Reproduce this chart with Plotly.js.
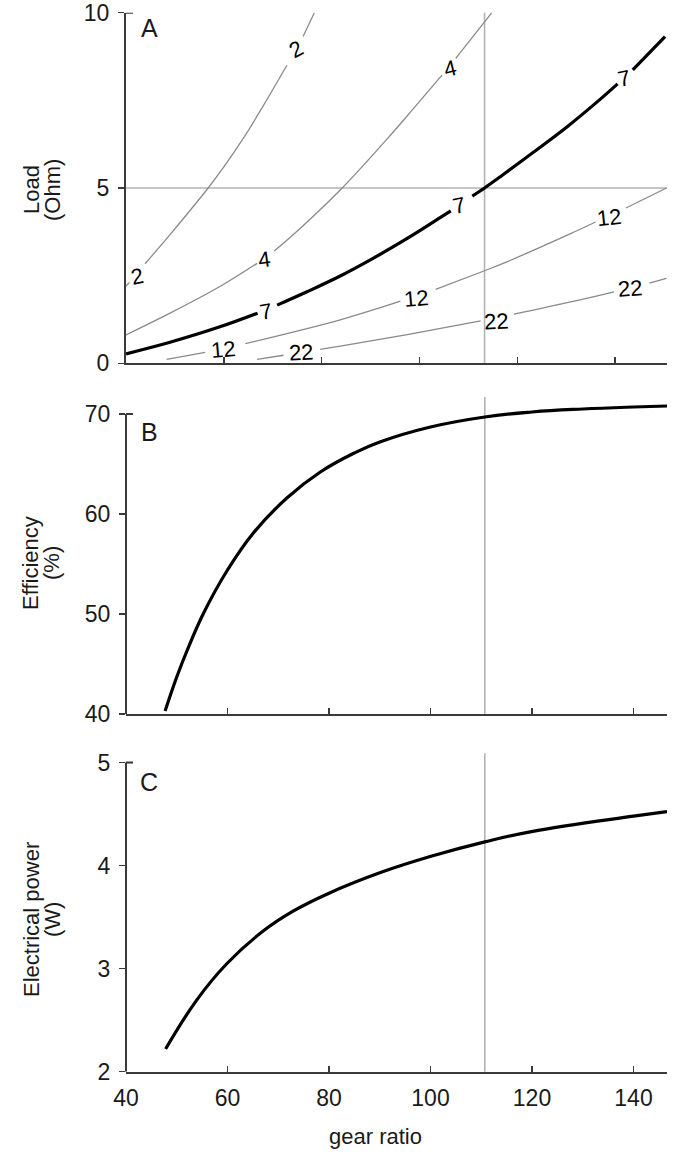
<!DOCTYPE html>
<html>
<head>
<meta charset="utf-8">
<script src="https://cdn.plot.ly/plotly-3.0.1.min.js"></script>
<style>html,body{margin:0;padding:0;background:#fff;}#chart{width:685px;height:1161px;}</style>
</head>
<body>
<div id="chart"></div>
<script>
// ---------- DATA ----------
// Panel A: iso-lines of load (Ohm) vs gear ratio; null = gap left for a label
const gear2  = [40, 40.7, null, 43.9, 49.0, 53.8, 56.8, 60.0, 64.0, 68.0, 72.9, null, 76.2, 78.5];
const load2  = [2.20, 2.31, null, 2.84, 3.67, 4.48, 5.0, 5.60, 6.42, 7.33, 8.50, null, 9.32, 10.0];

const gear4  = [40, 49.0, 59.2, 66.8, null, 70.3, 75.7, 84.2, 93.4, 98.8, 104.6, null, 107.4, 113.3, 114.8];
const load4  = [0.81, 1.43, 2.19, 2.85, null, 3.20, 3.86, 5.0, 6.40, 7.27, 8.22, null, 8.70, 9.74, 10.0];

const gear7  = [40, 49.0, 59.2, 66.9, null, 70.9, 77.0, 83.8, 90.6, 97.5, 104.3, 106.4, null, 110.8, 113.3, 116.6, 123.0, 130.2, 137.1, 140.5, null, 143.6, 150.2];
const load7  = [0.27, 0.60, 1.04, 1.43, null, 1.66, 2.04, 2.49, 3.00, 3.56, 4.16, 4.35, null, 4.77, 5.0, 5.33, 5.99, 6.75, 7.55, 7.97, null, 8.37, 9.32];

const gear12 = [48.3, 56.2, null, 64.4, 83.8, 96.1, null, 103.3, 113.3, 116.6, 130.9, 136.0, null, 142.2, 150.5];
const load12 = [0.11, 0.31, null, 0.56, 1.24, 1.77, null, 2.11, 2.64, 2.82, 3.70, 4.03, null, 4.43, 5.0];

const gear22 = [66.8, 72.2, null, 79.7, 83.8, 97.5, 112.5, null, 119.3, 130.9, 139.8, null, 147.0, 150.5];
const load22 = [0.11, 0.23, null, 0.40, 0.49, 0.82, 1.21, null, 1.40, 1.75, 2.04, null, 2.29, 2.42];

// contour labels
const labelText = ['2', '2', '4', '4', '7', '7', '7', '12', '12', '12', '22', '22', '22'];
const labelGear = [42.2, 74.7, 68.3, 106.2, 68.6, 108.1, 141.8, 59.9, 99.2, 138.8, 75.8, 115.6, 143.1];
const labelLoad = [2.48, 8.96, 2.97, 8.40, 1.47, 4.50, 8.12, 0.40, 1.86, 4.16, 0.30, 1.20, 2.13];

// Panel B: efficiency (%)
const gearEff = [47.7, 50, 52, 55.3, 60, 65.1, 71.7, 78.3, 85, 90, 100, 110.7, 120, 130, 140, 146.6];
const effPct  = [40.3, 43.7, 46.3, 50.1, 54.4, 58.1, 61.6, 64.2, 66.1, 67.2, 68.7, 69.7, 70.2, 70.5, 70.7, 70.8];

// Panel C: electrical power (W)
const gearPow = [47.8, 54.0, 59.9, 66.9, 73.0, 79.9, 90.0, 100.1, 110.7, 119.9, 140, 146.6];
const powerW  = [2.22, 2.70, 3.05, 3.36, 3.56, 3.73, 3.93, 4.09, 4.23, 4.33, 4.48, 4.525];

// selected operating point (grey reference lines)
const selectedLoad = 5;
const selectedGearA = 113.3;   // as drawn on panel A's axis
const selectedGearBC = 110.7;  // as drawn on panels B and C

// tick labels
const gearTicks = [40, 60, 80, 100, 120, 140];
const loadTicks = [0, 5, 10];
const effTicks = [40, 50, 60, 70];
const powTicks = [2, 3, 4, 5];

// ---------- STYLE ----------
const FONT = "'Liberation Sans', Arial, sans-serif";
const TXT = '#1a1a1a';
const AX = '#3a3a3a';
const GREY = '#8a8a8a';
const REF = '#b3b3b3';
const H = 1161, PW = 541, LM = 126;
const py = v => 1 - v / H;          // pixel row -> paper fraction
const px = v => (v - LM) / PW;      // pixel column -> paper fraction

const contourSets = [
  {x: gear2, y: load2, c: GREY, w: 1.3},
  {x: gear4, y: load4, c: GREY, w: 1.3},
  {x: gear7, y: load7, c: '#000', w: 3.2},
  {x: gear12, y: load12, c: GREY, w: 1.3},
  {x: gear22, y: load22, c: GREY, w: 1.3}
];

const traces = contourSets.map(s => ({
  type: 'scatter', mode: 'lines', x: s.x, y: s.y, xaxis: 'x', yaxis: 'y',
  line: {color: s.c, width: s.w, shape: 'spline', smoothing: 1},
  connectgaps: false, hoverinfo: 'skip'
}));
traces.push({type: 'scatter', mode: 'lines', x: gearEff, y: effPct, xaxis: 'x2', yaxis: 'y2',
  line: {color: '#000', width: 3.2, shape: 'spline', smoothing: 1.2}, hoverinfo: 'skip'});
traces.push({type: 'scatter', mode: 'lines', x: gearPow, y: powerW, xaxis: 'x3', yaxis: 'y3',
  line: {color: '#000', width: 3.2, shape: 'spline', smoothing: 1.2}, hoverinfo: 'skip'});

const labelAngle = [-12, -28, -8, -14, -10, -12, -12, -5, -5, -6, -3, -3, -4];
const annotations = labelText.map((t, i) => ({
  xref: 'x', yref: 'y', x: labelGear[i], y: labelLoad[i], text: t, showarrow: false,
  textangle: labelAngle[i], font: {family: FONT, size: 22, color: '#000'},
  xanchor: 'center', yanchor: 'middle'
}));

// panel letters
[['A', 27.5], ['B', 432], ['C', 782]].forEach(([t, yy]) => annotations.push({
  xref: 'paper', yref: 'paper', x: px(149), y: py(yy), text: t, showarrow: false,
  xanchor: 'center', yanchor: 'middle', font: {family: FONT, size: 25, color: TXT}
}));
// axis titles (two rotated lines each)
[['Load', '(Ohm)', 190], ['Efficiency', '(%)', 563], ['Electrical power', '(W)', 920]].forEach(([a, b, yy]) => {
  annotations.push({xref: 'paper', yref: 'paper', x: px(31), y: py(yy), text: a, showarrow: false, textangle: -90,
    xanchor: 'center', yanchor: 'middle', font: {family: FONT, size: 22, color: TXT}});
  annotations.push({xref: 'paper', yref: 'paper', x: px(52), y: py(yy), text: b, showarrow: false, textangle: -90,
    xanchor: 'center', yanchor: 'middle', font: {family: FONT, size: 22, color: TXT}});
});
annotations.push({xref: 'paper', yref: 'paper', x: px(375), y: py(1136.7), text: 'gear ratio', showarrow: false,
  xanchor: 'center', yanchor: 'middle', font: {family: FONT, size: 22, color: TXT}});

const refLine = {color: REF, width: 1.6};
const axLine = {color: AX, width: 2};
const shapes = [
  // panel A reference lines
  {type: 'line', xref: 'x', yref: 'y domain', x0: selectedGearA, x1: selectedGearA, y0: 0, y1: 1, line: refLine, layer: 'below'},
  {type: 'line', xref: 'x domain', yref: 'y', x0: 0, x1: 1, y0: selectedLoad, y1: selectedLoad, line: refLine, layer: 'below'},
  // panel B / C reference lines
  {type: 'line', xref: 'x2', yref: 'y2 domain', x0: selectedGearBC, x1: selectedGearBC, y0: 0, y1: 1, line: refLine, layer: 'below'},
  {type: 'line', xref: 'x3', yref: 'y3 domain', x0: selectedGearBC, x1: selectedGearBC, y0: 0, y1: 1, line: refLine, layer: 'below'},
  // y-axis spines for B and C (stop at top tick)
  {type: 'line', xref: 'x2 domain', yref: 'y2', x0: 0, x1: 0, y0: 40, y1: 70, line: axLine},
  {type: 'line', xref: 'x3 domain', yref: 'y3', x0: 0, x1: 0, y0: 2, y1: 5, line: axLine},
  // inward top ticks
  {type: 'line', xref: 'x', xsizemode: 'pixel', xanchor: 40, x0: 0, x1: 7, yref: 'y', y0: 10, y1: 10, line: axLine},
  {type: 'line', xref: 'x2', xsizemode: 'pixel', xanchor: 40, x0: 0, x1: 7, yref: 'y2', y0: 70, y1: 70, line: axLine},
  {type: 'line', xref: 'x3', xsizemode: 'pixel', xanchor: 40, x0: 0, x1: 7, yref: 'y3', y0: 5, y1: 5, line: axLine}
];

const xBase = {
  showgrid: false, zeroline: false, showline: true, linecolor: AX, linewidth: 2,
  ticks: 'inside', ticklen: 6, tickwidth: 1.5, tickcolor: AX, tickmode: 'array',
  tickfont: {family: FONT, size: 23, color: TXT}, ticklabeloverflow: 'allow', fixedrange: true
};
const yBase = {
  showgrid: false, zeroline: false, linecolor: AX, linewidth: 2,
  ticks: 'outside', ticklen: 6, tickwidth: 1.5, tickcolor: AX, tickmode: 'array',
  tickfont: {family: FONT, size: 23, color: TXT}, ticklabelstandoff: 4,
  ticklabeloverflow: 'allow', fixedrange: true
};

const layout = {
  width: 685, height: 1161,
  margin: {l: LM, r: 685 - LM - PW, t: 0, b: 0},
  paper_bgcolor: '#fff', plot_bgcolor: '#fff', showlegend: false,
  font: {family: FONT, color: TXT},
  xaxis: Object.assign({}, xBase, {domain: [0, 1], range: [40, 150.6], anchor: 'y',
    tickvals: gearTicks.slice(1), showticklabels: false}),
  yaxis: Object.assign({}, yBase, {domain: [py(363.3), py(12.7)], range: [0, 10], anchor: 'x',
    showline: true, tickvals: loadTicks, ticktext: loadTicks.map(String)}),
  xaxis2: Object.assign({}, xBase, {domain: [0, 1], range: [40, 146.6], anchor: 'y2',
    tickvals: gearTicks.slice(1), showticklabels: false}),
  yaxis2: Object.assign({}, yBase, {domain: [py(714), py(397)], range: [40, 71.7], anchor: 'x2',
    showline: false, tickvals: effTicks, ticktext: effTicks.map(String)}),
  xaxis3: Object.assign({}, xBase, {domain: [0, 1], range: [40, 146.6], anchor: 'y3',
    tickvals: gearTicks, ticktext: gearTicks.map(String), ticklabelstandoff: 5}),
  yaxis3: Object.assign({}, yBase, {domain: [py(1071.7), py(753.3)], range: [2, 5.09], anchor: 'x3',
    showline: false, tickvals: powTicks, ticktext: powTicks.map(String)}),
  annotations: annotations,
  shapes: shapes
};

Plotly.newPlot('chart', traces, layout, {displayModeBar: false, staticPlot: true});
</script>
</body>
</html>
